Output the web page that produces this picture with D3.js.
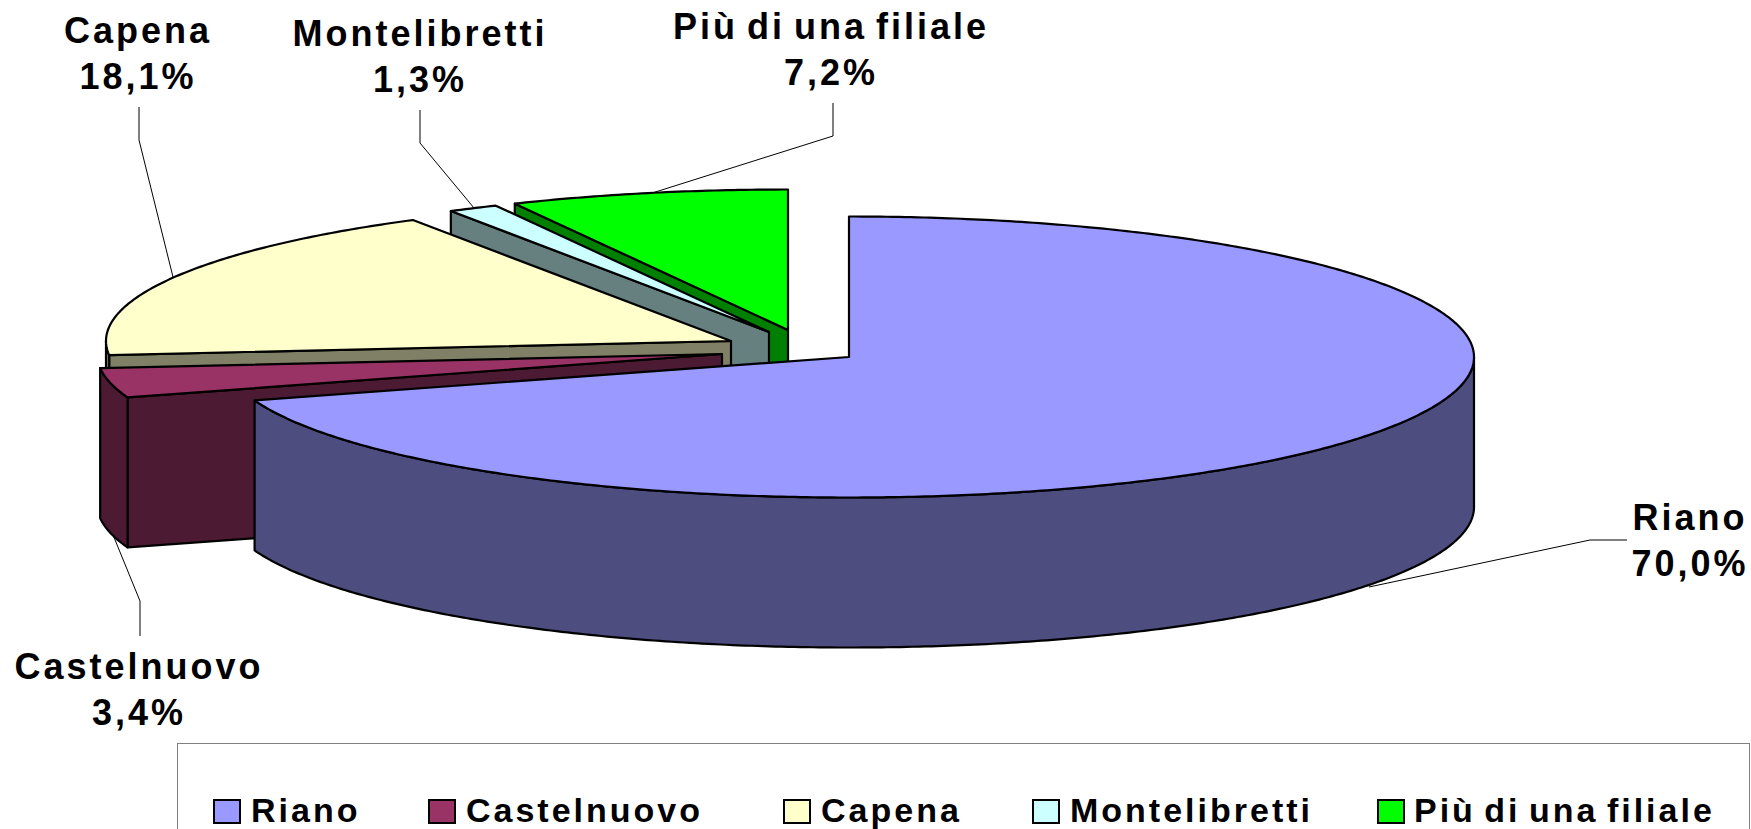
<!DOCTYPE html>
<html><head><meta charset="utf-8">
<script src="https://cdn.jsdelivr.net/npm/d3@7"></script>
<style>html,body{margin:0;padding:0;background:#fff;overflow:hidden}svg{display:block}
text{font-family:"Liberation Sans",Arial,sans-serif;font-weight:700;fill:#000}</style></head>
<body><svg id="c" width="1751" height="829"></svg>
<script>
const categories = ["Riano","Castelnuovo","Capena","Montelibretti","Più di una filiale"];
const values = [70.0,3.4,18.1,1.3,7.2];
const topColors = ["#9999FF","#993366","#FFFFCC","#CCFFFF","#00FF00"];
const sideColors = ["#4D4D80","#4D1A33","#808066","#668080","#008000"];

// layout (not data)
const rx=625, ry=140.5, depth=150;
const apexes=[[849,357],[722,354],[731,341],[769,332],[788,330]];
const labelPos=[[1690,530],[139,679],[138,43],[420,46],[831,39]];
const leaders=[
 [[1627,540],[1590,540],[1369,587]],
 [[140,636],[140,601],[111,530]],
 [[139,107],[139,140],[173,277]],
 [[420,110],[420,143],[474,208]],
 [[833,103],[833,136],[649,194]]
];
const legendX=[[214,251],[429,466],[784,821],[1033,1070],[1378,1414]];

const svg=d3.select("#c");
const pie=d3.pie().sort(null).value(d=>d)(values);
const line=d3.line();
const unitX=d3.scaleLinear().domain([-1,1]).range([-rx,rx]);
const unitY=d3.scaleLinear().domain([-1,1]).range([-ry,ry]);
const pt=(i,t,dy=0)=>[apexes[i][0]+unitX(Math.sin(t)),apexes[i][1]-unitY(Math.cos(t))+dy];
function arcPts(i,a,b,dy=0){
  const n=Math.max(2,Math.ceil((b-a)/0.01));
  return d3.range(n+1).map(k=>pt(i,a+(b-a)*k/n,dy));
}
function face(points,fill,sw=2.2){
  svg.append("path").attr("d",line(points)+"Z").attr("fill",fill)
    .attr("stroke","#000").attr("stroke-width",sw).attr("stroke-linejoin","round");
}
// leaders behind the pie
leaders.forEach(l=>svg.append("path").attr("d",line(l)).attr("fill","none").attr("stroke","#000").attr("stroke-width",1));

// painter's order: back to front
[4,3,2,1,0].forEach(i=>{
  const a=pie[i].startAngle,b=pie[i].endAngle,ap=apexes[i];
  // radial cut face at the start angle, facing the viewer
  if(i!==0){
    const q=pt(i,a);
    face([q,ap,[ap[0],ap[1]+depth],[q[0],q[1]+depth]],sideColors[i]);
  }
  // outer wall: only the part in the front half
  const wa=Math.max(a,Math.PI/2),wb=Math.min(b,3*Math.PI/2);
  if(wb>wa){
    face(arcPts(i,wa,wb).concat(arcPts(i,wa,wb,depth).reverse()),sideColors[i]);
  }
  // top face
  face([ap].concat(arcPts(i,a,b)),topColors[i]);
});

// data labels
const fmt=v=>d3.format(".1f")(v).replace(".",",")+"%";
categories.forEach((c,i)=>{
  const [x,y]=labelPos[i];
  const t=svg.append("text").attr("text-anchor","middle").attr("font-size",36)
    .attr("letter-spacing",3).attr("word-spacing",-4);
  t.append("tspan").attr("x",x).attr("y",y).text(c);
  t.append("tspan").attr("x",x).attr("y",y+46).text(fmt(values[i]));
});

// legend
svg.append("rect").attr("x",177.5).attr("y",743.5).attr("width",1572).attr("height",120)
  .attr("fill","#fff").attr("stroke","#808080").attr("stroke-width",1);
categories.forEach((c,i)=>{
  svg.append("rect").attr("x",legendX[i][0]).attr("y",800).attr("width",26).attr("height",23)
    .attr("fill",topColors[i]).attr("stroke","#000").attr("stroke-width",2);
  svg.append("text").attr("x",legendX[i][1]).attr("y",821.5).attr("font-size",34)
    .attr("letter-spacing",3).attr("word-spacing",-4).text(c);
});
</script></body></html>
